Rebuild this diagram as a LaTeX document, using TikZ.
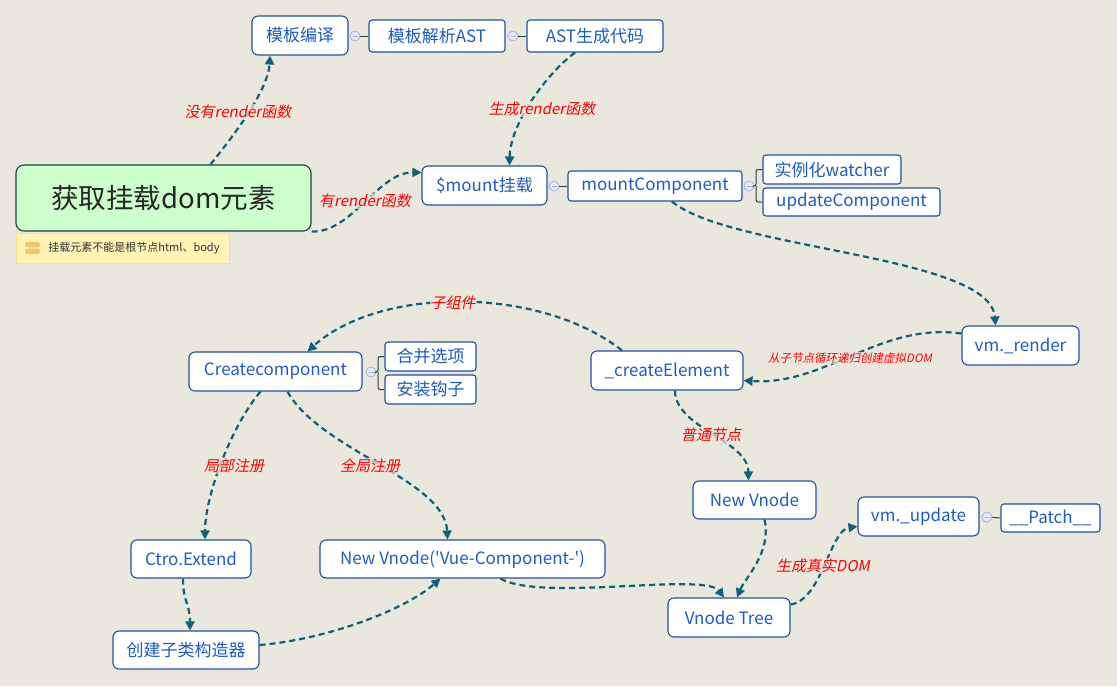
\documentclass[tikz,border=0pt]{standalone}
\usepackage{fontspec}
\newfontfamily\cjk{Noto Sans CJK SC}
\newfontfamily\cjkit[FakeSlant=0.2]{Noto Sans CJK SC}
\usetikzlibrary{arrows.meta}
\definecolor{bg}{HTML}{EAE7DC}
\definecolor{boxblue}{HTML}{1E50A8}
\definecolor{txtblue}{HTML}{1C5CC4}
\definecolor{edgec}{HTML}{0F6079}
\definecolor{rootfill}{HTML}{CCFFCC}
\definecolor{rootdraw}{HTML}{1E3F3A}
\definecolor{notefill}{HTML}{FFF3B5}
\definecolor{notedraw}{HTML}{FBDF8A}
\definecolor{dotfill}{HTML}{E6EAF6}
\definecolor{dotdraw}{HTML}{A3B2DC}
\definecolor{linkc}{HTML}{23403C}
\definecolor{iconc}{HTML}{F3C46E}
\tikzset{
  mainbox/.style={draw=boxblue, fill=white, rounded corners=6pt, line width=1.1pt,
    text=txtblue, inner sep=0pt, font=\cjk\fontsize{17}{19}\selectfont},
  subbox/.style={mainbox, rounded corners=3pt},
  rootbox/.style={draw=rootdraw, fill=rootfill, rounded corners=8pt, line width=1.1pt,
    text=black!85, inner sep=0pt, font=\cjk\fontsize{27.5}{30}\selectfont},
  notebox/.style={draw=notedraw, fill=notefill, line width=0.8pt, inner sep=0pt,
    text=black!80, font=\cjk\fontsize{11}{13}\selectfont},
  flow/.style={draw=edgec, line width=2.2pt, dash pattern=on 6pt off 4pt,
    -{Triangle[length=9pt,width=9pt]}},
  lbl/.style={text=red, font=\cjkit\fontsize{15}{17}\selectfont, fill=bg, fill opacity=0.7,
    text opacity=1, inner sep=1pt},
  dot/.style={circle, draw=dotdraw, fill=dotfill, line width=0.8pt, minimum size=10pt, inner sep=0pt,
    path picture={\draw[dotdraw, line width=0.9pt] ([xshift=-2.5pt]path picture bounding box.center) -- ([xshift=2.5pt]path picture bounding box.center);}},
  link/.style={draw=linkc, line width=1pt},
}
\begin{document}
\begin{tikzpicture}[x=1pt,y=-1pt]
\fill[bg] (0,0) rectangle (1117,686);
\useasboundingbox (0,0) rectangle (1117,686);

% nodes
\node[rootbox, minimum width=295pt, minimum height=66pt] (root) at (163.5,198) {获取挂载dom元素};
\node[notebox, minimum width=213pt, minimum height=30pt, anchor=center] (note) at (122.5,248) {};
\node[notebox, draw=none, fill=none, anchor=west] (notetxt) at (48,248) {挂载元素不能是根节点html、body};
\fill[iconc, rounded corners=1.5pt] (25,242) rectangle (40,247.3);
\fill[iconc, rounded corners=1.5pt] (25,248.7) rectangle (40,254);

\node[mainbox, minimum width=96pt, minimum height=39pt] (mbby) at (300,35.5) {模板编译};
\node[subbox, minimum width=136pt, minimum height=32pt] (mbjx) at (437,36) {模板解析AST};
\node[subbox, minimum width=136pt, minimum height=32pt] (astsc) at (595,36) {AST生成代码};

\node[mainbox, minimum width=125pt, minimum height=39pt] (mount) at (484.5,185.5) {\$mount挂载};
\node[subbox, minimum width=174pt, minimum height=30pt] (mc) at (655,186) {mountComponent};
\node[subbox, minimum width=138pt, minimum height=29pt] (watcher) at (832,169.5) {实例化watcher};
\node[subbox, minimum width=177pt, minimum height=28pt] (upd) at (851.5,202) {updateComponent};

\node[mainbox, minimum width=117pt, minimum height=39pt] (render) at (1020.5,345.5) {vm.\_render};
\node[mainbox, minimum width=152pt, minimum height=39pt] (ce) at (667,370.5) {\_createElement};
\node[mainbox, minimum width=173pt, minimum height=39pt] (cc) at (275.5,371.5) {Createcomponent};
\node[subbox, minimum width=91pt, minimum height=29pt] (hb) at (430.5,356.5) {合并选项};
\node[subbox, minimum width=91pt, minimum height=29pt] (az) at (430.5,389.5) {安装钩子};

\node[mainbox, minimum width=123pt, minimum height=38pt] (nv) at (754.5,500) {New Vnode};
\node[mainbox, minimum width=121pt, minimum height=39pt] (vu) at (918.5,516.5) {vm.\_update};
\node[subbox, minimum width=99pt, minimum height=28pt] (patch) at (1050.5,518) {\_\_Patch\_\_};
\node[mainbox, minimum width=122pt, minimum height=39pt] (vt) at (729,617.5) {Vnode Tree};

\node[mainbox, minimum width=120pt, minimum height=38pt] (ctro) at (191,559) {Ctro.Extend};
\node[mainbox, minimum width=285pt, minimum height=38pt] (nvc) at (462.5,559) {New Vnode('Vue-Component-')};
\node[mainbox, minimum width=146pt, minimum height=38pt] (czl) at (186,650) {创建子类构造器};

% collapse markers and links
\node[dot] (d1) at (355,36) {};
\node[dot] (d2) at (513,36) {};
\node[dot] (d3) at (554,186) {};
\node[dot] (d4) at (749,186) {};
\node[dot] (d5) at (371,372) {};
\node[dot] (d6) at (987,517) {};
\draw[link] (d1) -- (mbjx.west);
\draw[link] (d2) -- (astsc.west);
\draw[link] (d3) -- (mc.west);
\draw[link, rounded corners=2pt] (d4.east) -- (756,186) |- (watcher.west);
\draw[link, rounded corners=2pt] (756,186) |- (upd.west);
\draw[link, rounded corners=2pt] (d5.east) -- (378,372) |- (hb.west);
\draw[link, rounded corners=2pt] (378,372) |- (az.west);
\draw[link] (d6) -- (patch.west);

% flow connectors
\draw[flow] ([xshift=47pt]root.north) .. controls (230,140) and (268,92) .. ([xshift=-30pt]mbby.south);
\draw[flow] (root.south east) .. controls (352,233) and (378,172) .. ([yshift=13pt]mount.west);
\draw[flow] ([xshift=-20pt]astsc.south) .. controls (545,75) and (510,125) .. ([xshift=25pt]mount.north);
\draw[flow] ([xshift=17pt]mc.south) .. controls (730,250) and (990,255) .. ([xshift=-25pt]render.north);
\draw[flow] ([yshift=12pt]render.west) .. controls (880,322) and (825,386) .. ([yshift=-10pt]ce.east);
\draw[flow] ([xshift=-45pt]ce.north) .. controls (540,286) and (380,286) .. ([xshift=32pt]cc.north);
\draw[flow] ([xshift=8pt]ce.south) .. controls (675,428) and (748,440) .. ([xshift=-6pt]nv.north);
\draw[flow] ([xshift=-15pt]cc.south) .. controls (232,425) and (205,495) .. ([xshift=14pt]ctro.north);
\draw[flow] ([xshift=12pt]cc.south) .. controls (320,450) and (445,480) .. ([xshift=-15pt]nvc.north);
\draw[flow] ([xshift=-8pt]ctro.south) .. controls (183,603) and (190,603) .. ([xshift=4pt]czl.north);
\draw[flow] ([yshift=5pt]czl.east) .. controls (322,640) and (402,612) .. ([xshift=-22pt]nvc.south);
\draw[flow] ([xshift=38pt]nvc.south) .. controls (540,602) and (705,572) .. ([xshift=-5pt]vt.north);
\draw[flow] ([xshift=10pt]nv.south) .. controls (772,552) and (745,578) .. ([xshift=8pt]vt.north);
\draw[flow] ([yshift=13pt]vt.east) .. controls (822,600) and (830,530) .. ([yshift=-10pt]vu.west);

% labels
\node[lbl] (l1) at (238,112) {没有render函数};
\node[lbl] (l2) at (365,201) {有render函数};
\node[lbl] (l3) at (542,109) {生成render函数};
\node[lbl, font=\cjkit\fontsize{11.5}{13}\selectfont] (l4) at (850,358) {从子节点循环递归创建虚拟DOM};
\node[lbl] (l5) at (453,303) {子组件};
\node[lbl] (l6) at (711,435) {普通节点};
\node[lbl] (l7) at (234,466) {局部注册};
\node[lbl] (l8) at (370,466) {全局注册};
\node[lbl] (l9) at (823,566) {生成真实DOM};
\end{tikzpicture}
\end{document}
